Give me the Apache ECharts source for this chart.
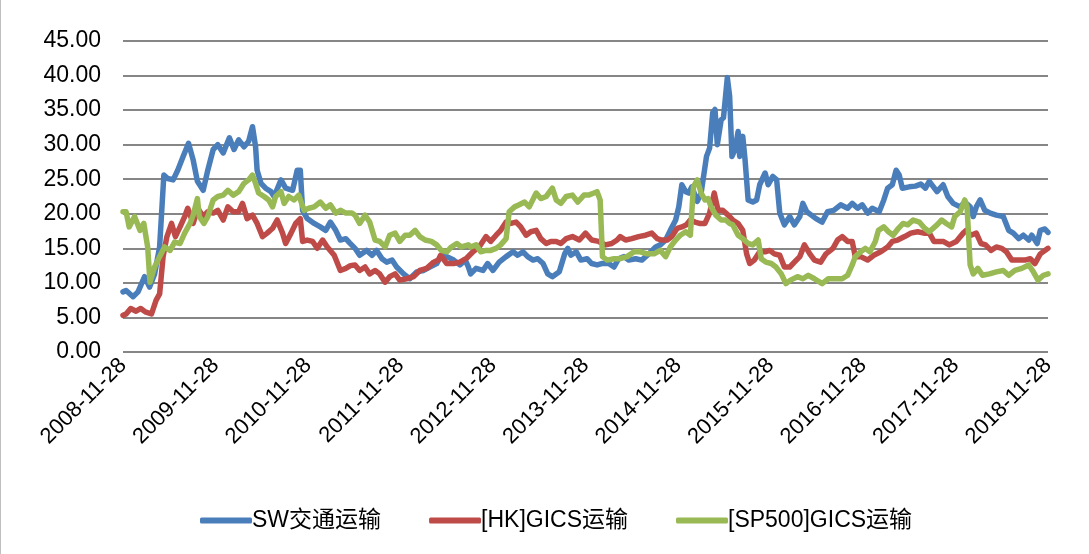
<!DOCTYPE html>
<html>
<head>
<meta charset="utf-8">
<script src="https://cdn.jsdelivr.net/npm/echarts@6/dist/echarts.min.js"></script>
<style>
html,body{margin:0;padding:0;background:#fff;}
#c{width:1089px;height:554px;}
</style>
</head>
<body>
<div id="c"></div>
<script>
// x values are months since 2008-11-28
var xTickLabels = ['2008-11-28','2009-11-28','2010-11-28','2011-11-28','2012-11-28','2013-11-28','2014-11-28','2015-11-28','2016-11-28','2017-11-28','2018-11-28'];
var seriesNames = ['SW交通运输','[HK]GICS运输','[SP500]GICS运输'];

var swData = [[0,8.7],[0.4,8.9],[1.3,8.0],[1.95,8.7],[2.8,10.9],[3.45,9.4],[4.1,11.3],[4.75,15.2],[5.3,25.6],[5.8,25.1],[6.5,24.9],[7.1,26.3],[7.8,28.3],[8.5,30.2],[9.1,27.8],[9.65,24.7],[10.4,23.4],[11.0,26.3],[11.7,29.3],[12.3,30.0],[13.0,28.8],[13.8,31.0],[14.4,29.3],[15.0,30.7],[15.7,29.7],[16.3,30.5],[16.8,32.6],[17.2,29.7],[17.4,26.3],[17.9,24.4],[18.5,23.7],[19.2,23.2],[19.6,22.5],[20.5,24.9],[21.1,23.7],[22.0,23.4],[22.6,26.3],[23.0,26.3],[23.3,20.5],[23.9,19.3],[24.8,18.6],[25.6,18.1],[26.3,17.6],[26.9,18.8],[27.6,17.6],[28.2,16.2],[28.9,16.4],[29.4,15.8],[30.1,15.0],[30.7,14.0],[31.6,14.7],[32.3,14.0],[32.9,14.7],[33.6,13.5],[34.2,13.0],[34.9,13.3],[35.5,12.3],[36.4,11.3],[37.2,10.6],[38.1,11.6],[39.0,11.8],[39.8,12.3],[40.7,12.8],[41.3,14.0],[42.0,13.8],[42.9,13.3],[43.7,12.6],[44.4,13.3],[44.8,12.3],[45.1,11.3],[45.8,12.1],[46.7,11.8],[47.3,12.8],[48.0,11.8],[48.8,13.0],[49.7,13.8],[50.6,14.5],[51.2,14.0],[51.9,14.5],[52.5,13.8],[53.2,13.3],[53.8,13.5],[54.5,12.8],[55.1,11.3],[55.7,10.9],[56.6,11.6],[57.3,14.2],[57.7,15.0],[58.1,14.0],[58.8,14.5],[59.4,13.3],[60.2,13.5],[60.8,12.8],[61.5,12.6],[62.1,12.8],[63.0,12.8],[63.7,12.3],[64.3,13.5],[65.0,13.8],[65.6,13.3],[66.5,13.5],[67.3,13.3],[68.2,14.2],[69.1,15.2],[69.7,15.5],[70.4,16.2],[71.0,17.6],[71.7,19.1],[72.1,21.0],[72.5,24.2],[73.0,23.2],[73.4,23.0],[73.8,23.9],[74.5,21.8],[75.0,23.0],[75.7,28.3],[76.1,29.5],[76.5,34.6],[76.8,35.1],[77.1,30.0],[77.6,33.6],[77.9,33.9],[78.4,39.7],[78.7,37.0],[79.0,28.3],[79.4,29.3],[79.8,31.9],[80.0,28.3],[80.4,31.2],[80.7,27.8],[81.1,22.0],[81.7,21.7],[82.2,22.0],[82.6,24.2],[83.3,25.9],[83.7,24.2],[84.3,25.4],[84.8,24.9],[85.2,20.1],[85.8,18.4],[86.5,19.6],[87.1,18.4],[87.8,19.6],[88.2,21.5],[88.7,20.3],[89.3,19.8],[89.9,19.3],[90.7,18.8],[91.4,20.3],[92.2,20.5],[93.1,21.3],[94.0,20.8],[94.6,21.5],[95.3,20.8],[95.9,21.3],[96.6,20.1],[97.2,20.8],[98.1,20.3],[98.7,22.0],[99.2,23.7],[99.8,24.2],[100.3,26.3],[100.7,25.6],[101.1,23.7],[102.0,23.9],[102.8,24.0],[103.5,24.3],[104.1,23.7],[104.6,24.7],[105.6,23.2],[106.4,24.2],[107.0,22.5],[107.7,21.5],[108.6,21.0],[109.2,21.7],[109.9,21.0],[110.3,19.6],[110.7,21.0],[111.2,22.0],[111.8,20.5],[112.5,20.1],[113.3,19.8],[114.2,19.6],[114.9,17.6],[115.5,17.2],[116.2,16.4],[116.8,16.9],[117.5,16.2],[117.9,16.9],[118.6,15.7],[119.0,17.6],[119.6,17.8],[120,17.3]];

var hkData = [[0,5.3],[0.4,5.5],[1.0,6.3],[1.7,5.9],[2.3,6.3],[2.9,5.8],[3.7,5.5],[4.3,7.5],[4.75,8.4],[5.2,13.8],[5.7,16.7],[6.3,18.6],[6.8,16.7],[7.4,18.1],[8.0,19.6],[8.4,20.8],[9.1,18.6],[9.7,20.8],[10.4,19.6],[11.0,20.3],[11.7,20.1],[12.3,20.5],[13.0,19.1],[13.6,21.0],[14.3,20.3],[15.0,20.3],[15.5,21.5],[16.1,19.3],[16.8,19.8],[17.4,18.6],[18.1,16.7],[18.7,17.2],[19.4,17.9],[20.0,19.1],[20.7,17.2],[21.1,15.7],[21.8,17.2],[22.4,18.6],[23.0,19.3],[23.3,16.0],[23.9,16.2],[24.6,16.0],[25.2,15.0],[25.9,16.2],[26.5,15.2],[27.4,14.0],[28.2,11.8],[28.9,12.1],[29.5,12.5],[30.1,12.6],[30.7,11.8],[31.4,12.3],[32.0,11.3],[32.7,11.8],[33.3,11.3],[34.0,10.1],[34.6,10.9],[35.3,11.3],[35.9,10.4],[36.8,10.6],[37.7,10.9],[38.5,11.8],[39.4,12.1],[40.3,13.0],[40.9,13.3],[41.2,14.0],[42.0,12.8],[42.9,12.8],[43.7,13.0],[44.6,13.6],[45.4,14.5],[46.2,15.2],[47.1,16.7],[47.7,16.0],[48.4,16.9],[49.0,17.6],[49.7,18.8],[50.3,18.6],[51.0,18.8],[51.6,18.1],[52.3,16.9],[52.9,17.4],[53.6,17.6],[54.2,16.4],[54.9,15.7],[55.5,16.0],[56.2,16.0],[56.8,15.7],[57.5,16.4],[58.3,16.7],[59.2,16.2],[60.0,17.2],[60.8,16.2],[61.7,16.0],[62.6,15.5],[63.4,15.7],[64.1,16.2],[64.5,16.7],[65.2,16.2],[66.0,16.4],[66.9,16.7],[67.8,16.9],[68.6,17.2],[69.3,16.4],[69.9,16.2],[70.6,16.2],[71.2,16.7],[71.9,17.9],[72.5,18.1],[73.1,18.4],[73.6,19.1],[74.2,18.8],[74.8,18.6],[75.5,18.6],[76.1,20.1],[76.7,23.0],[77.2,20.5],[77.8,20.5],[78.5,19.8],[79.1,19.1],[79.8,18.6],[80.4,17.6],[80.9,14.2],[81.3,12.8],[81.9,13.3],[82.6,14.5],[83.3,14.5],[83.9,14.7],[84.5,14.2],[85.2,14.0],[85.8,12.3],[86.5,12.3],[87.1,13.0],[87.8,13.8],[88.4,15.5],[89.1,14.2],[89.7,13.3],[90.5,13.0],[91.2,14.2],[92.1,15.0],[92.7,16.2],[93.3,16.7],[94.0,16.0],[94.6,16.0],[95.0,13.8],[95.7,13.8],[96.6,13.3],[97.4,14.0],[98.3,14.5],[99.2,15.2],[99.8,16.0],[100.5,16.2],[101.4,16.7],[102.2,17.2],[103.1,17.4],[103.9,17.2],[104.6,17.2],[105.2,16.0],[106.4,16.0],[107.2,15.5],[108.1,16.0],[109.0,17.2],[109.4,17.6],[110.0,16.9],[110.7,17.2],[111.3,15.7],[111.9,15.5],[112.6,14.7],[113.3,15.2],[114.0,15.0],[114.6,14.5],[115.3,13.3],[116.2,13.3],[117.0,13.3],[117.7,13.5],[118.3,12.8],[119.0,14.2],[120,15.0]];

var spData = [[0,20.3],[0.4,20.3],[0.8,18.1],[1.5,19.6],[2.2,17.6],[2.7,18.6],[3.2,15.2],[3.5,10.1],[4.1,12.3],[4.75,13.8],[5.4,15.2],[6.1,14.7],[6.7,15.9],[7.4,15.7],[8.0,17.2],[8.7,18.6],[9.1,19.8],[9.65,22.2],[9.9,19.6],[10.5,18.6],[11.0,19.6],[11.7,22.0],[12.3,22.5],[13.0,22.7],[13.6,23.4],[14.3,22.7],[15.0,23.2],[15.7,24.4],[16.3,24.9],[16.8,25.6],[17.2,24.4],[17.6,23.0],[18.3,22.5],[18.9,22.0],[19.4,21.0],[19.8,22.5],[20.5,23.2],[20.9,21.5],[21.5,22.5],[22.2,22.0],[22.8,22.7],[23.5,20.5],[24.1,20.8],[24.8,21.0],[25.6,21.7],[26.3,20.8],[26.9,21.3],[27.6,20.1],[28.2,20.5],[28.9,20.1],[29.7,20.1],[30.1,19.8],[30.7,18.6],[31.4,19.8],[32.0,18.8],[32.7,16.2],[33.3,16.0],[34.0,15.2],[34.6,16.9],[35.3,17.2],[35.9,16.0],[36.6,16.9],[37.2,16.9],[37.9,17.6],[38.5,16.7],[39.2,16.2],[40.0,16.0],[40.7,15.5],[41.3,14.7],[42.0,14.5],[42.6,15.2],[43.3,15.7],[43.9,15.2],[44.8,15.5],[45.1,15.2],[45.8,15.5],[46.4,14.5],[47.1,14.7],[47.7,14.7],[48.4,15.0],[49.0,15.5],[49.7,16.4],[50.1,20.3],[50.8,21.0],[51.4,21.3],[52.1,21.7],[52.7,21.0],[53.6,23.0],[54.2,22.2],[54.9,22.5],[55.7,23.7],[56.2,22.0],[56.8,21.5],[57.5,22.5],[58.3,22.7],[59.0,21.7],[59.8,22.7],[60.4,22.7],[61.1,23.0],[61.5,23.2],[61.9,22.0],[62.2,13.8],[62.8,13.3],[63.7,13.5],[64.5,13.5],[65.4,13.8],[66.3,14.5],[67.1,14.5],[68.0,14.2],[68.9,14.2],[69.7,14.7],[70.4,13.8],[71.0,15.2],[71.7,16.2],[72.3,16.9],[73.0,17.4],[73.6,16.9],[74.0,23.9],[74.5,24.9],[75.0,23.0],[75.5,22.0],[75.9,22.2],[76.3,21.0],[76.9,19.8],[77.6,19.1],[78.2,19.1],[78.7,18.6],[79.1,18.4],[79.8,16.9],[80.4,16.4],[81.1,15.7],[81.7,15.5],[82.4,16.2],[82.8,13.5],[83.4,13.0],[84.1,12.8],[84.7,12.3],[85.4,11.3],[86.0,9.9],[86.6,10.4],[87.5,10.9],[88.2,10.6],[88.9,11.1],[89.7,10.6],[90.7,9.9],[91.5,10.6],[92.5,10.6],[93.3,10.6],[94.0,11.1],[94.6,12.6],[95.0,13.8],[95.7,14.5],[96.3,15.0],[96.9,14.5],[97.6,16.0],[98.0,17.6],[98.7,18.1],[99.3,17.4],[99.9,16.9],[100.6,17.9],[101.2,18.6],[101.8,18.4],[102.5,19.1],[103.3,18.8],[104.0,17.9],[104.6,17.4],[105.6,18.4],[106.2,19.1],[106.8,18.6],[107.5,18.1],[107.9,19.6],[108.6,20.3],[109.2,22.0],[109.5,21.0],[109.9,12.6],[110.3,11.3],[110.9,12.1],[111.5,11.1],[112.4,11.3],[113.3,11.6],[114.2,11.8],[114.9,11.1],[115.7,11.8],[116.6,12.1],[117.5,12.6],[118.1,11.6],[118.7,10.4],[119.4,11.1],[120,11.3]];

var colors = ['#4A7EBB','#BE4B48','#98B954'];
var FONT = '"Liberation Sans", "Noto Sans CJK SC", sans-serif';

var chart = echarts.init(document.getElementById('c'), null, {renderer:'canvas'});
function mk(name, data, color){
  return {name:name, type:'line', data:data, showSymbol:false, smooth:false,
    lineStyle:{color:color, width:5.5, join:'round', cap:'round'}, itemStyle:{color:color}, animation:false};
}
chart.setOption({
  animation:false,
  backgroundColor:'#fff',
  grid:{left:123, right:41, top:41, bottom:202, containLabel:false},
  legend:{
    data:seriesNames, bottom:17, left:195, itemWidth:52, itemHeight:6, itemGap:48, icon:'roundRect',
    textStyle:{fontFamily:FONT, fontSize:23, color:'#000', padding:[0,0,0,-5]}
  },
  xAxis:{type:'value', min:0, max:120, interval:12,
    axisLine:{show:false}, axisTick:{show:false}, splitLine:{show:false},
    axisLabel:{rotate:45, margin:10, fontFamily:FONT, fontSize:22, color:'#000',
      formatter:function(v){return xTickLabels[Math.round(v/12)];}}
  },
  yAxis:{type:'value', min:0, max:45, interval:5,
    axisLine:{show:false}, axisTick:{show:false},
    splitLine:{lineStyle:{color:'#868686', width:2}},
    axisLabel:{margin:22, fontFamily:FONT, fontSize:23, color:'#000', formatter:function(v){return v.toFixed(2);}}
  },
  series:[mk(seriesNames[0], swData, colors[0]), mk(seriesNames[1], hkData, colors[1]), mk(seriesNames[2], spData, colors[2])],
  graphic:[{type:'line', shape:{x1:0.5,y1:0,x2:0.5,y2:554}, style:{stroke:'#bfbfbf', lineWidth:1}}]
});
</script>
</body>
</html>
